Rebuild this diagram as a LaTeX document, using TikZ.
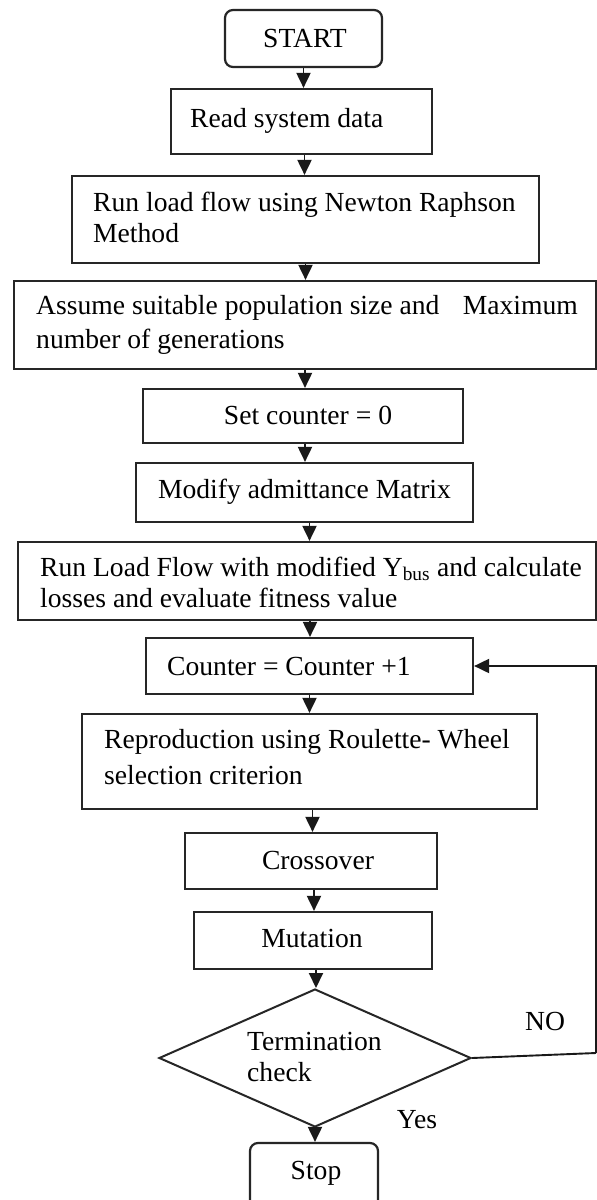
\documentclass[tikz,border=0pt]{standalone}
\usepackage{fontspec}
\setmainfont{Liberation Serif}
\usetikzlibrary{arrows.meta,shapes.geometric}

\begin{document}
\begin{tikzpicture}[x=1pt,y=-1pt,
  every node/.style={font=\fontsize{27.6}{31}\selectfont},
  box/.style={draw=black!85, line width=2.2pt, inner sep=0pt, rectangle},
  term/.style={box, rounded corners=8pt},
  decision/.style={draw=black!85, line width=2pt, inner sep=0pt, diamond},
  txt/.style={inner sep=0pt, align=left},
  flow/.style={draw=black!90, line width=1.9pt, -{Triangle[length=15pt,width=14pt]}},
  line/.style={draw=black!90, line width=1.9pt}]

\useasboundingbox (0,0) rectangle (597,1200);
\clip (0,0) rectangle (597,1200);
\fill[white] (0,0) rectangle (597,1200);

% process boxes (centre, width, height)
\node[term, minimum width=157, minimum height=57] (start) at (303.5,38.5) {};
\node[box, minimum width=261, minimum height=65] (read) at (301.5,121.5) {};
\node[box, minimum width=467, minimum height=87] (runnr) at (305.5,219.5) {};
\node[box, minimum width=582, minimum height=88] (assume) at (305,325) {};
\node[box, minimum width=320, minimum height=54] (setc) at (303,416) {};
\node[box, minimum width=337, minimum height=59] (modify) at (304.5,492.5) {};
\node[box, minimum width=578, minimum height=78] (runlf) at (307,581) {};
\node[box, minimum width=327, minimum height=56] (counter) at (309.5,666) {};
\node[box, minimum width=455, minimum height=95] (repro) at (309.5,761.5) {};
\node[box, minimum width=252, minimum height=56] (cross) at (311,861) {};
\node[box, minimum width=238, minimum height=57] (mut) at (313,940.5) {};
\node[decision, minimum width=312, minimum height=138] (dia) at (315,1058) {};
\node[term, minimum width=128, minimum height=76] (stop) at (314,1181) {};

% box texts
\node[txt] (start-t) at (305,38) {START};
\node[txt, anchor=west] (read-t) at (190,121) {Read system data};
\node[txt, anchor=west] (runnr-t) at (93,217) {Run load flow using Newton Raphson\\Method};
\node[txt, anchor=west] (assume-t) at (36,325) {Assume suitable population size and\hspace{0.6em} Maximum\\[3pt]number of generations};
\node[txt] (setc-t) at (308,415) {Set counter = 0};
\node[txt] (modify-t) at (304.5,492) {Modify admittance Matrix};
\node[txt, anchor=west] (runlf-t) at (40,582) {Run Load Flow with modified Y\textsubscript{bus} and calculate\\losses and evaluate fitness value};
\node[txt, anchor=west] (counter-t) at (167,666) {Counter = Counter +1};
\node[txt, anchor=west] (repro-t) at (104,757) {Reproduction using Roulette- Wheel\\[5pt]selection criterion};
\node[txt] (cross-t) at (318,860) {Crossover};
\node[txt] (mut-t) at (312,938) {Mutation};
\node[txt, anchor=west] (dia-t) at (247,1057) {Termination\\check};
\node[txt] (stop-t) at (316,1173) {Stop};

% branch labels
\node[txt] (no) at (545,1021) {NO};
\node[txt] (yes) at (417,1120) {Yes};

% main flow
\draw[flow] (start.south) -- (start.south |- read.north);
\draw[flow] ([xshift=3pt]read.south) -- ([xshift=3pt]read.south |- runnr.north);
\draw[flow] (runnr.south) -- (runnr.south |- assume.north);
\draw[flow] (assume.south) -- (assume.south |- setc.north);
\draw[flow] ([xshift=2pt]setc.south) -- ([xshift=2pt]setc.south |- modify.north);
\draw[flow] ([xshift=5pt]modify.south) -- ([xshift=5pt]modify.south |- runlf.north);
\draw[flow] ([xshift=3pt]runlf.south) -- ([xshift=3pt]runlf.south |- counter.north);
\draw[flow] (counter.south) -- (counter.south |- repro.north);
\draw[flow] ([xshift=3pt]repro.south) -- ([xshift=3pt]repro.south |- cross.north);
\draw[flow] ([xshift=3pt]cross.south) -- ([xshift=3pt]cross.south |- mut.north);
\draw[flow] ([xshift=3pt]mut.south) -- ([xshift=3pt]mut.south |- dia.north);
\draw[flow] (dia.south) -- (dia.south |- stop.north);

% loop back on NO
\coordinate (loopr) at (596,1053);
\draw[line] (dia.east) -- (loopr);
\draw[flow] (loopr) |- (counter.east);

\end{tikzpicture}
\end{document}
